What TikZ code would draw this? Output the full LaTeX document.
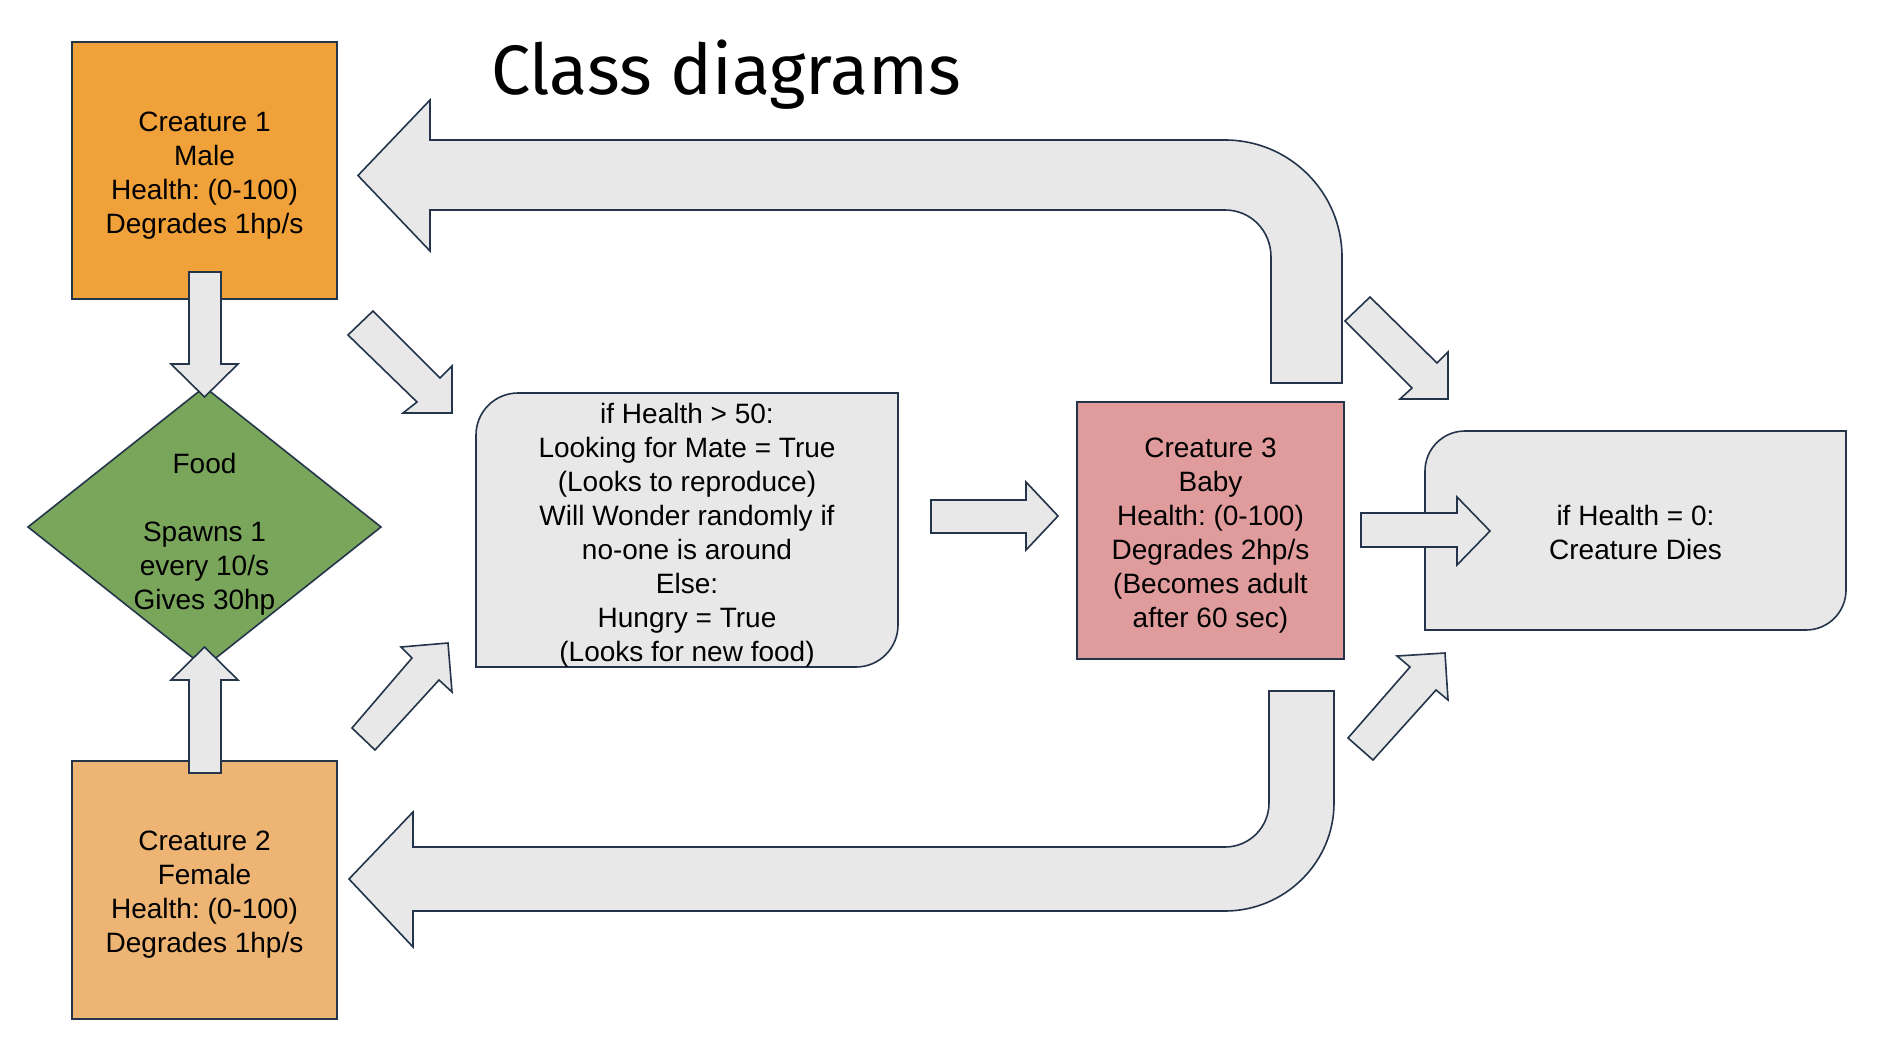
\documentclass[tikz,border=0pt]{standalone}
\usepackage{fontspec}
\setmainfont{Liberation Sans}
\newfontfamily\titlefont{Fira Sans}
\definecolor{cone}{RGB}{241,161,58}
\definecolor{ctwo}{RGB}{237,180,116}
\definecolor{cfood}{RGB}{121,166,90}
\definecolor{cthree}{RGB}{224,156,156}
\definecolor{grayf}{RGB}{232,232,232}
\definecolor{linec}{RGB}{36,52,74}
\begin{document}
\frenchspacing
\begin{tikzpicture}[x=1pt,y=-1pt,
  edge/.style={draw=linec, line width=1.6pt, line join=miter},
  boxtext/.style={font=\fontsize{28}{34}\selectfont, align=center, text=black, inner sep=0pt},
  creature/.style={edge, rectangle, inner sep=0pt, outer sep=0pt},
  blockarrow/.style={edge, fill=grayf},
  gbox/.style={edge, fill=grayf}]
\useasboundingbox (0,0) rectangle (1886,1036);
\fill[white] (0,0) rectangle (1886,1036);

% title
\node[anchor=base west, inner sep=0pt, font=\titlefont\fontsize{70}{80}\selectfont] (title) at (491,94) {Class diagrams};

% boxes
\node[creature, fill=cone, minimum width=265pt, minimum height=257pt] (c1) at (204.5,170.5) {};
\node[boxtext] (c1t) at (204.5,175.5) {Creature 1\\Male\\Health: (0-100)\\Degrades 1hp/s};
\node[creature, fill=ctwo, minimum width=265pt, minimum height=258pt] (c2) at (204.5,890) {};
\node[boxtext] (c2t) at (204.5,895) {Creature 2\\Female\\Health: (0-100)\\Degrades 1hp/s};
\path[edge, fill=cfood] (28,527) -- (204.5,387) -- (381,527) -- (204.5,667) -- cycle;
\node[boxtext] (food) at (204.5,534) {Food\\\mbox{}\\Spawns 1\\every 10/s\\Gives 30hp};

\path[gbox] (476,667) -- (476,435) .. controls (476,411.8) and (494.8,393) .. (518,393)
  -- (898,393) -- (898,625) .. controls (898,648.2) and (879.2,667) .. (856,667) -- cycle;
\node[boxtext] (mid) at (687,535) {if Health > 50:\\Looking for Mate = True\\(Looks to reproduce)\\Will Wonder randomly if\\no-one is around\\Else:\\Hungry = True\\(Looks for new food)};

\node[creature, fill=cthree, minimum width=267pt, minimum height=257pt] (c3) at (1210.5,530.5) {};
\node[boxtext] (c3t) at (1210.5,535.5) {Creature 3\\Baby\\Health: (0-100)\\Degrades 2hp/s\\(Becomes adult\\after 60 sec)};

\path[gbox] (1425,630) -- (1425,471) .. controls (1425,448.9) and (1442.9,431) .. (1465,431)
  -- (1846,431) -- (1846,590) .. controls (1846,612.1) and (1828.1,630) .. (1806,630) -- cycle;
\node[boxtext] (dies) at (1635.5,532) {if Health = 0:\\Creature Dies};

% block arrows
\path[blockarrow] (189,272) -- (221,272) -- (221,364) -- (238,364) -- (204.5,397) -- (171,364) -- (189,364) -- cycle;
\path[blockarrow] (189,773) -- (221,773) -- (221,680) -- (238,680) -- (204.5,647) -- (171,680) -- (189,680) -- cycle;

\path[blockarrow] (348,335) -- (373,311) -- (440,378) -- (452,366) -- (452,413) -- (403,413) -- (417,402) -- cycle;
\path[blockarrow] (352,728) -- (412,658) -- (401,647) -- (448,643) -- (452,692) -- (439,680) -- (375,750) -- cycle;
\path[blockarrow] (1345,321) -- (1370,297) -- (1437,363) -- (1448,352) -- (1448,399) -- (1400,399) -- (1412,388) -- cycle;
\path[blockarrow] (1348,738) -- (1410,667) -- (1397,656) -- (1445,653) -- (1448,700) -- (1436,690) -- (1373,760) -- cycle;

\path[blockarrow] (931,500) -- (1026,500) -- (1026,482) -- (1058,516) -- (1026,550) -- (1026,533) -- (931,533) -- cycle;
\path[blockarrow] (1361,513) -- (1457,513) -- (1457,497) -- (1490,531) -- (1457,565) -- (1457,547) -- (1361,547) -- cycle;

% big curved arrows
\path[blockarrow] (1271,383) -- (1342,383) -- (1342,257) .. controls (1342,192.4) and (1289.6,140) .. (1225,140)
  -- (430,140) -- (430,100) -- (358,175.5) -- (430,251) -- (430,210) -- (1225,210)
  .. controls (1251,210) and (1271,231) .. (1271,257) -- cycle;
\path[blockarrow] (1269,691) -- (1334,691) -- (1334,803) .. controls (1334,862.6) and (1284.6,911) .. (1225,911)
  -- (413,911) -- (413,947) -- (349,879) -- (413,812) -- (413,847) -- (1225,847)
  .. controls (1249.3,847) and (1269,827.3) .. (1269,803) -- cycle;
\end{tikzpicture}
\end{document}
